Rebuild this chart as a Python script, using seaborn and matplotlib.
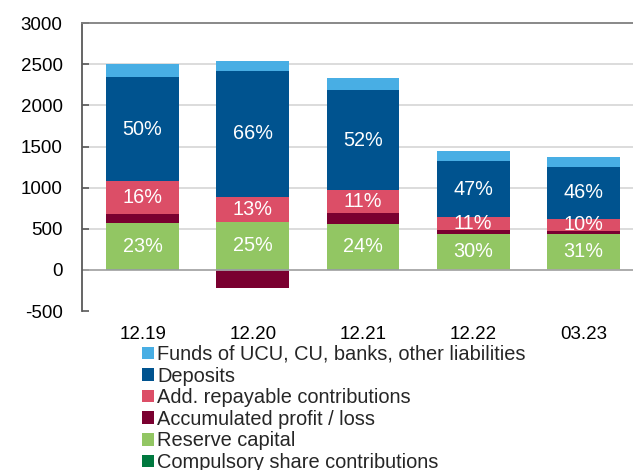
import numpy as np
import matplotlib
matplotlib.use("Agg")
import matplotlib.pyplot as plt
import seaborn as sns
from matplotlib.patches import Patch

# === Data ===
periods = ["12.19", "12.20", "12.21", "12.22", "03.23"]

compulsory = [6, 6, 6, 5, 5]
reserve = [566, 578, 557, 437, 437]
profit = [110, -223, 134, 48, 36]
add_repayable = [400, 308, 272, 155, 146]
deposits = [1257, 1520, 1217, 673, 633]
funds = [163, 130, 141, 130, 121]

deposits_pct = ["50%", "66%", "52%", "47%", "46%"]
repayable_pct = ["16%", "13%", "11%", "11%", "10%"]
reserve_pct = ["23%", "25%", "24%", "30%", "31%"]

series = [
    ("Compulsory share contributions", compulsory, "#00793F"),
    ("Reserve capital", reserve, "#92C663"),
    ("Accumulated profit / loss", profit, "#7A0030"),
    ("Add. repayable contributions", add_repayable, "#DC4E67"),
    ("Deposits", deposits, "#00538F"),
    ("Funds of UCU, CU, banks, other liabilities", funds, "#48AEE4"),
]

# === Style ===
sns.set_theme(style="white")
plt.rcParams["font.family"] = ["Liberation Sans", "DejaVu Sans"]
plt.rcParams["axes.unicode_minus"] = False

fig = plt.figure(figsize=(6.33, 4.70), dpi=100)
ax = fig.add_axes([0.1295, 0.338, 0.8705, 0.613])

# gridlines behind the bars
for yv in range(500, 3000, 500):
    ax.axhline(yv, color="#D9D9D9", linewidth=1.3, zorder=0)

# === Stacked bars (positives stack up, negatives stack down from zero) ===
pos_base = np.zeros(len(periods))
neg_base = np.zeros(len(periods))
mids = {}
for name, vals, color in series:
    vals = np.array(vals, dtype=float)
    bottom = np.where(vals >= 0, pos_base, neg_base)
    sns.barplot(x=periods, y=vals, bottom=bottom, color=color, width=0.66,
                linewidth=0, saturation=1, ax=ax, zorder=2)
    mids[name] = bottom + vals / 2
    pos_base = pos_base + np.where(vals >= 0, vals, 0)
    neg_base = neg_base + np.where(vals < 0, vals, 0)

# percentage labels inside segments
for name, labels in [("Deposits", deposits_pct),
                     ("Add. repayable contributions", repayable_pct),
                     ("Reserve capital", reserve_pct)]:
    for i, lab in enumerate(labels):
        ax.text(i, mids[name][i], lab, ha="center", va="center",
                color="white", fontsize=14.3, zorder=3)

ax.axhline(0, color="#A6A6A6", linewidth=1.3, zorder=2.5)

# === Axes ===
ax.set_xlim(-0.55, 4.45)
ax.set_ylim(-500, 3000)
ax.set_yticks(range(-500, 3001, 500))
ax.tick_params(axis="y", direction="in", length=5, width=1.2, color="#595959",
               labelsize=13.5, pad=14, left=True)
ax.tick_params(axis="x", length=0, labelsize=13.5, pad=11)
for lab in ax.get_xticklabels() + ax.get_yticklabels():
    lab.set_color("black")
ax.spines["left"].set_color("#595959")
ax.spines["left"].set_linewidth(1.3)
ax.spines["top"].set_color("#7F7F7F")
ax.spines["top"].set_linewidth(1.3)
ax.spines["right"].set_visible(False)
ax.spines["bottom"].set_visible(False)
ax.set_xlabel("")
ax.set_ylabel("")

# === Legend below the plot ===
handles = [Patch(facecolor=c, edgecolor="none", label=n) for n, _, c in reversed(series)]
fig.legend(handles=handles, loc="upper left", bbox_to_anchor=(0.2243, 0.266),
           frameon=False, fontsize=14.4, handlelength=0.6, handleheight=0.6,
           handletextpad=0.15, labelspacing=0.13, borderpad=0, borderaxespad=0)

fig.savefig("out.png", dpi=100)
plt.close(fig)
